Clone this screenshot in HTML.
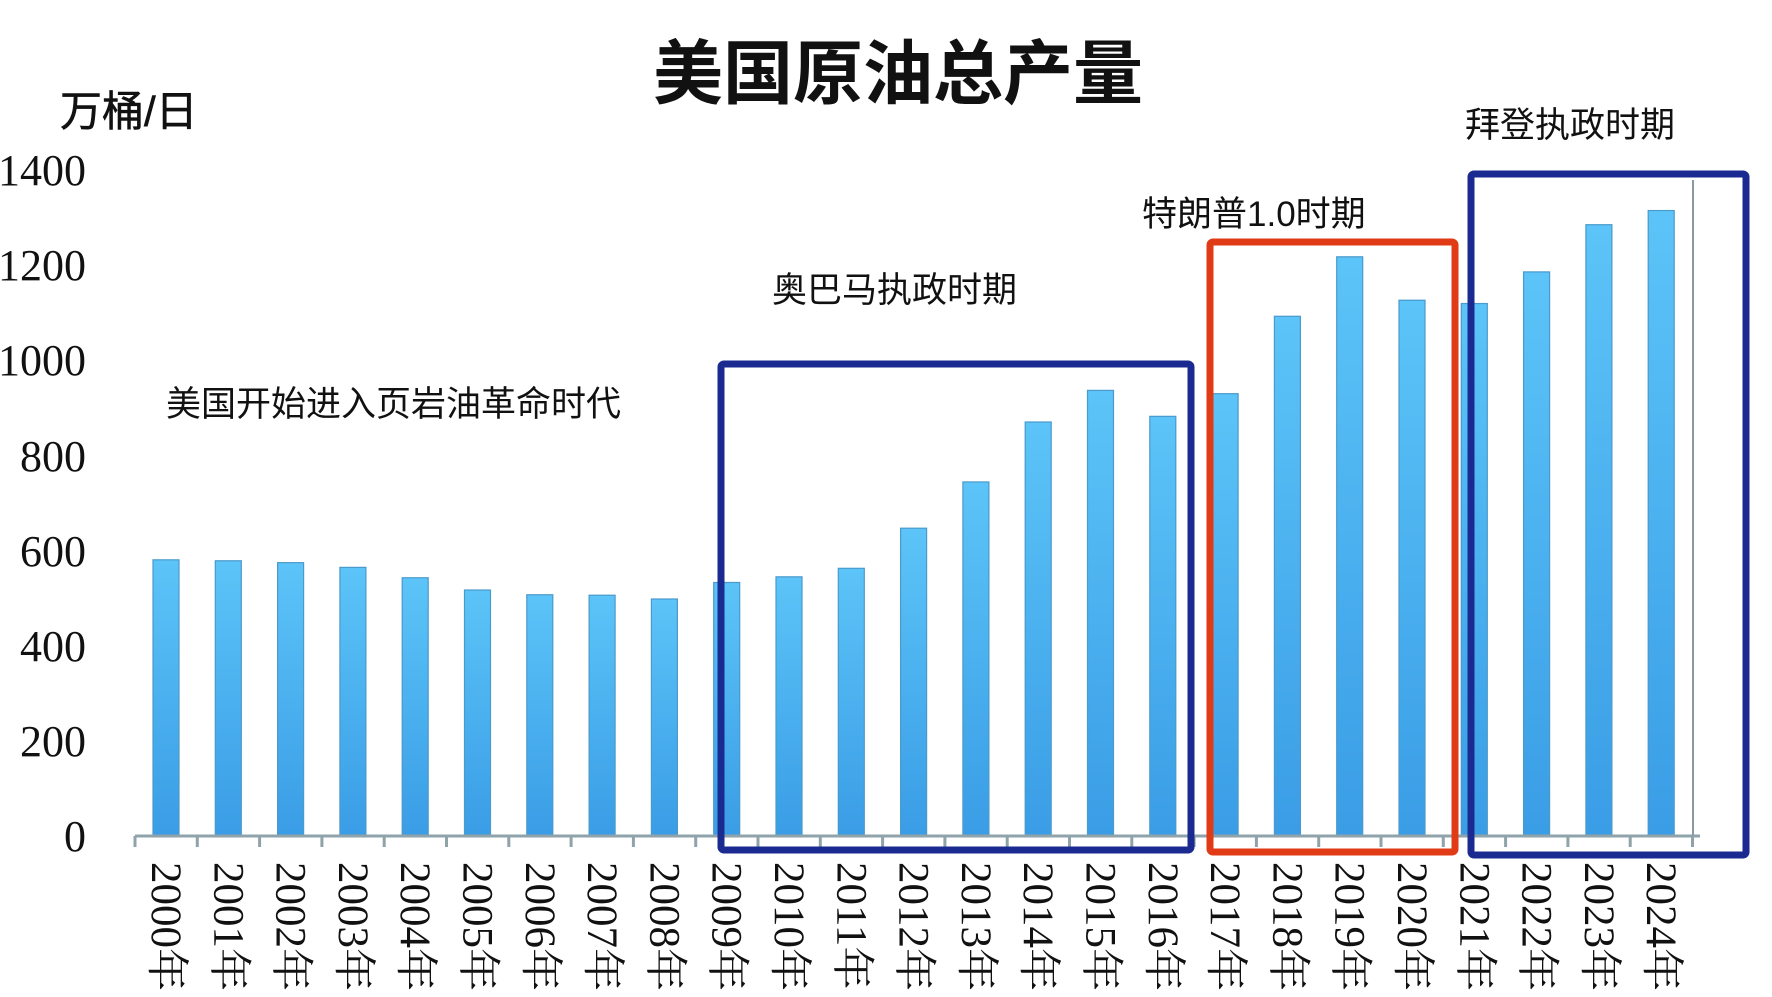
<!DOCTYPE html>
<html><head><meta charset="utf-8"><style>
html,body{margin:0;padding:0;background:#fff;}
svg{display:block}
.cj{font-family:"Liberation Sans","Noto Sans CJK SC",sans-serif;}
.sf{font-family:"Liberation Serif","Noto Serif CJK SC",serif;}
</style></head><body>
<svg width="1772" height="997" viewBox="0 0 1772 997" xmlns="http://www.w3.org/2000/svg">
<defs>
<linearGradient id="g" x1="0" y1="0" x2="0" y2="1">
<stop offset="0" stop-color="#5cc4f8"/><stop offset="1" stop-color="#3a9de6"/>
</linearGradient>
</defs>
<text x="898" y="98" text-anchor="middle" class="cj" font-size="70" font-weight="bold" fill="#111">美国原油总产量</text>
<text x="60" y="126" class="cj" font-size="42" fill="#111" stroke="#111" stroke-width="0.6">万桶/日</text>
<g class="sf" font-size="44" fill="#111" text-anchor="end">
<text x="86" y="185">1400</text>
<text x="86" y="280">1200</text>
<text x="86" y="375">1000</text>
<text x="86" y="471">800</text>
<text x="86" y="566">600</text>
<text x="86" y="661">400</text>
<text x="86" y="756">200</text>
<text x="86" y="851">0</text>
</g>
<g id="bars"></g>
<line x1="135" y1="836" x2="1700" y2="836" stroke="#8fa3ab" stroke-width="3"/>
<line x1="1693" y1="180" x2="1693" y2="836" stroke="#8a9aa0" stroke-width="2"/>
<g id="ticks" stroke="#8fa3ab" stroke-width="3"></g>
<g id="labels" class="sf" font-size="43" fill="#111"></g>
<g class="cj" font-size="35" fill="#111">
<text x="166" y="416">美国开始进入页岩油革命时代</text>
<text x="772" y="302">奥巴马执政时期</text>
<text x="1142" y="226">特朗普1.0时期</text>
<text x="1465" y="137">拜登执政时期</text>
</g>
<rect x="721" y="364" width="470" height="486" fill="none" stroke="#1a2a90" stroke-width="7" rx="3"/>
<rect x="1210" y="242" width="245" height="610" fill="none" stroke="#e03a16" stroke-width="7" rx="3"/>
<rect x="1471" y="174" width="275" height="681" fill="none" stroke="#1a2a90" stroke-width="7" rx="3"/>
<script>
var v=[583,581,577,567,545,519,509,508,500,535,547,565,650,748,875,942,887,935,1099,1225,1133,1126,1193,1293,1323];
var ns="http://www.w3.org/2000/svg",b=document.getElementById('bars'),t=document.getElementById('ticks'),l=document.getElementById('labels');
for(var i=0;i<25;i++){var cx=166+i*62.3,h=v[i]*0.472;
var r=document.createElementNS(ns,'rect');r.setAttribute('x',cx-13);r.setAttribute('y',835-h);r.setAttribute('width',26);r.setAttribute('height',h);r.setAttribute('fill','url(#g)');r.setAttribute('stroke','#4a9acb');r.setAttribute('stroke-width','1.2');b.appendChild(r);
var x=document.createElementNS(ns,'text');x.setAttribute('transform','translate('+(cx-14)+',862) rotate(90)');x.textContent=(2000+i)+'年';l.appendChild(x);}
for(var i=0;i<=25;i++){var tx=135+i*62.3;var k=document.createElementNS(ns,'line');k.setAttribute('x1',tx);k.setAttribute('x2',tx);k.setAttribute('y1',836);k.setAttribute('y2',847);t.appendChild(k);}
</script>
</svg>
</body></html>
